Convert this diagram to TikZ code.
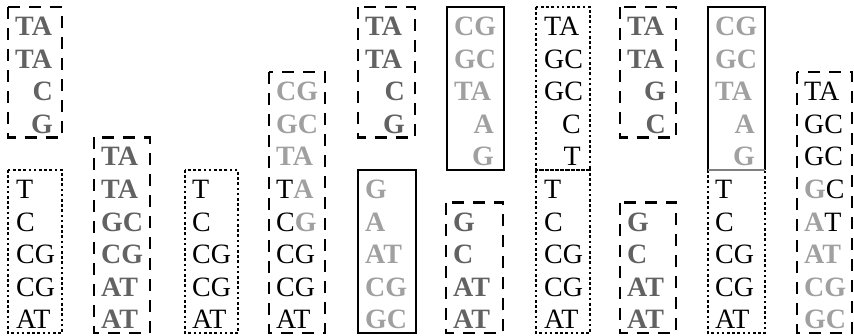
\documentclass[tikz,border=0pt]{standalone}
\usepackage{fontspec}
\setmainfont{Liberation Serif}
\definecolor{dg}{HTML}{626262}
\definecolor{lg}{HTML}{A0A0A0}
\definecolor{eg}{HTML}{808080}
\newcommand\dgt[1]{{\bfseries\color{dg}#1}}
\newcommand\lgt[1]{{\bfseries\color{lg}#1}}
\tikzset{
  dashbox/.style={draw=black, line width=2.4pt, dash pattern=on 12pt off 9pt},
  dotbox/.style={draw=black, line width=2.4pt, dash pattern=on 2.6pt off 2.6pt},
  solidbox/.style={draw=black, line width=2.4pt},
  txt/.style={inner sep=0pt, font=\fontsize{28}{30}\selectfont}
}
% box: style, x1, x2, firstrow-1, lastrow
\newcommand\boxr[5]{\path[#1] (#2,{7+32.6*#4}) rectangle (#3,{7+32.6*#5});}
% left aligned text: name, x, row, text
\newcommand\rowL[4]{\node[txt, anchor=base west] (#1) at (#2,{3+32.6*#3}) {#4};}
% right aligned text
\newcommand\rowR[4]{\node[txt, anchor=base east] (#1) at (#2,{3+32.6*#3}) {#4};}
\begin{document}
\begin{tikzpicture}[x=1pt, y=-1pt]
\useasboundingbox (0,0) rectangle (854,336);
% box 1
\boxr{dashbox}{8}{62}{0}{4}
\rowL{a1}{15}{1}{\dgt{TA}}
\rowL{a2}{15}{2}{\dgt{TA}}
\rowR{a3}{53}{3}{\dgt{C}}
\rowR{a4}{53}{4}{\dgt{G}}
% box 2
\boxr{dotbox}{8}{62}{5}{10}
\rowL{b6}{16}{6}{T}
\rowL{b7}{16}{7}{C}
\rowL{b8}{16}{8}{CG}
\rowL{b9}{16}{9}{CG}
\rowL{b10}{16}{10}{AT}
% box 3
\boxr{dashbox}{94}{150}{4}{10}
\rowL{c5}{101}{5}{\dgt{TA}}
\rowL{c6}{101}{6}{\dgt{TA}}
\rowL{c7}{101}{7}{\dgt{GC}}
\rowL{c8}{101}{8}{\dgt{CG}}
\rowL{c9}{101}{9}{\dgt{AT}}
\rowL{c10}{101}{10}{\dgt{AT}}
% box 4
\boxr{dotbox}{185}{238}{5}{10}
\rowL{d6}{192}{6}{T}
\rowL{d7}{192}{7}{C}
\rowL{d8}{192}{8}{CG}
\rowL{d9}{192}{9}{CG}
\rowL{d10}{192}{10}{AT}
% box 5
\boxr{dashbox}{269}{325}{2}{10}
\rowL{e3}{276}{3}{\lgt{CG}}
\rowL{e4}{276}{4}{\lgt{GC}}
\rowL{e5}{276}{5}{\lgt{TA}}
\rowL{e6}{276}{6}{T\lgt{A}}
\rowL{e7}{276}{7}{C\lgt{G}}
\rowL{e8}{276}{8}{CG}
\rowL{e9}{276}{9}{CG}
\rowL{e10}{276}{10}{AT}
% box 6
\boxr{dashbox}{358}{415}{0}{4}
\rowL{f1}{365}{1}{\dgt{TA}}
\rowL{f2}{365}{2}{\dgt{TA}}
\rowR{f3}{405}{3}{\dgt{C}}
\rowR{f4}{405}{4}{\dgt{G}}
% box 7
\boxr{solidbox}{358}{416}{5}{10}
\rowL{g6}{365}{6}{\lgt{G}}
\rowL{g7}{365}{7}{\lgt{A}}
\rowL{g8}{365}{8}{\lgt{AT}}
\rowL{g9}{365}{9}{\lgt{CG}}
\rowL{g10}{365}{10}{\lgt{GC}}
% box 8
\boxr{solidbox}{447}{504}{0}{5}
\rowL{h1}{454}{1}{\lgt{CG}}
\rowL{h2}{454}{2}{\lgt{GC}}
\rowL{h3}{454}{3}{\lgt{TA}}
\rowR{h4}{494}{4}{\lgt{A}}
\rowR{h5}{494}{5}{\lgt{G}}
% box 9
\boxr{dashbox}{446}{503}{6}{10}
\rowL{i7}{453}{7}{\dgt{G}}
\rowL{i8}{453}{8}{\dgt{C}}
\rowL{i9}{453}{9}{\dgt{AT}}
\rowL{i10}{453}{10}{\dgt{AT}}
% box 10 top
\boxr{dotbox}{536}{590}{0}{5}
\rowL{j1}{544}{1}{TA}
\rowL{j2}{544}{2}{GC}
\rowL{j3}{544}{3}{GC}
\rowR{j4}{581}{4}{C}
\rowR{j5}{581}{5}{T}
% box 10 bottom
\boxr{dotbox}{536}{590}{5}{10}
\rowL{k6}{544}{6}{T}
\rowL{k7}{544}{7}{C}
\rowL{k8}{544}{8}{CG}
\rowL{k9}{544}{9}{CG}
\rowL{k10}{544}{10}{AT}
% box 11
\boxr{dashbox}{620}{676}{0}{4}
\rowL{l1}{627}{1}{\dgt{TA}}
\rowL{l2}{627}{2}{\dgt{TA}}
\rowR{l3}{666}{3}{\dgt{G}}
\rowR{l4}{666}{4}{\dgt{C}}
% box 12
\boxr{dashbox}{620}{676}{6}{10}
\rowL{m7}{627}{7}{\dgt{G}}
\rowL{m8}{627}{8}{\dgt{C}}
\rowL{m9}{627}{9}{\dgt{AT}}
\rowL{m10}{627}{10}{\dgt{AT}}
% box 14 (dotted, drawn first)
\boxr{dotbox}{708}{765}{5}{10}
\rowL{o6}{715}{6}{T}
\rowL{o7}{715}{7}{C}
\rowL{o8}{715}{8}{CG}
\rowL{o9}{715}{9}{CG}
\rowL{o10}{715}{10}{AT}
% box 13 (solid, grey bottom)
\draw[line width=2.4pt] (708,{7+32.6*5}) -- (708,7) -- (765,7) -- (765,{7+32.6*5});
\draw[line width=2.4pt, eg] (708,{7+32.6*5}) -- (765,{7+32.6*5});
\rowL{n1}{715}{1}{\lgt{CG}}
\rowL{n2}{715}{2}{\lgt{GC}}
\rowL{n3}{715}{3}{\lgt{TA}}
\rowR{n4}{755}{4}{\lgt{A}}
\rowR{n5}{755}{5}{\lgt{G}}
% box 15
\boxr{dashbox}{797}{852}{2}{10}
\rowL{p3}{804}{3}{TA}
\rowL{p4}{804}{4}{GC}
\rowL{p5}{804}{5}{GC}
\rowL{p6}{804}{6}{\lgt{G}C}
\rowL{p7}{804}{7}{\lgt{A}T}
\rowL{p8}{804}{8}{\lgt{AT}}
\rowL{p9}{804}{9}{\lgt{CG}}
\rowL{p10}{804}{10}{\lgt{GC}}
\end{tikzpicture}
\end{document}
